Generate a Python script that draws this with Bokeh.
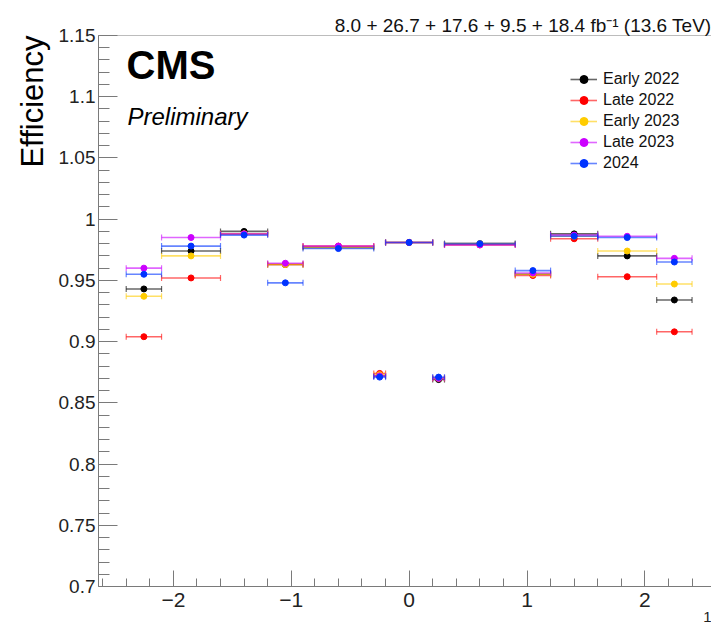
import numpy as np
from bokeh.plotting import figure
from bokeh.models import (FixedTicker, Label, Span, Legend, LegendItem, Title)
from bokeh.embed import file_html
from bokeh.resources import INLINE

# ---------------- data ----------------
eta_centers = [-2.25, -1.85, -1.4, -1.05, -0.6, -0.25, 0.0, 0.25, 0.6, 1.05, 1.4, 1.85, 2.25]
eta_halfwidths = [0.15, 0.25, 0.2, 0.15, 0.3, 0.05, 0.2, 0.05, 0.3, 0.15, 0.2, 0.25, 0.15]

early_2022 = [0.943, 0.974, 0.990, 0.963, 0.977, 0.872, 0.981, 0.869, 0.980, 0.955, 0.988, 0.970, 0.934]
late_2022 = [0.904, 0.952, 0.988, 0.963, 0.978, 0.874, 0.981, 0.870, 0.979, 0.954, 0.984, 0.953, 0.908]
early_2023 = [0.937, 0.970, 0.988, 0.963, 0.977, 0.873, 0.981, 0.870, 0.980, 0.955, 0.986, 0.974, 0.947]
late_2023 = [0.960, 0.985, 0.988, 0.964, 0.978, 0.872, 0.981, 0.870, 0.979, 0.956, 0.987, 0.986, 0.968]
year_2024 = [0.955, 0.978, 0.987, 0.948, 0.976, 0.871, 0.981, 0.871, 0.980, 0.958, 0.986, 0.985, 0.965]

series_names = ["Early 2022", "Late 2022", "Early 2023", "Late 2023", "2024"]
series_values = [early_2022, late_2022, early_2023, late_2023, year_2024]
series_colors = ["#000000", "#ff0000", "#ffcc00", "#cc00ff", "#0033ff"]

x_major_ticks = [-2, -1, 0, 1, 2]
x_tick_labels = ["\u22122", "\u22121", "0", "1", "2"]
y_major_ticks = [0.7, 0.75, 0.8, 0.85, 0.9, 0.95, 1.0, 1.05, 1.1, 1.15]
y_tick_labels = ["0.7", "0.75", "0.8", "0.85", "0.9", "0.95", "1", "1.05", "1.1", "1.15"]

lumi_text = "8.0 + 26.7 + 17.6 + 9.5 + 18.4 fb\u207b\u00b9 (13.6 TeV)"

# ---------------- figure ----------------
FONT = "Liberation Sans"
FL, FT, FB = 98, 35, 586   # frame left / top / bottom in page px

p = figure(width=711, height=633, output_backend="svg", toolbar_location=None,
           x_range=(-2.635, 2.565), y_range=(0.7, 1.15),
           min_border_left=FL, min_border_top=FT,
           min_border_bottom=633 - FB, min_border_right=0)
p.outline_line_color = None
p.xgrid.visible = False
p.ygrid.visible = False
p.background_fill_color = "white"
p.border_fill_color = "white"

# luminosity text as the (right-aligned) title above the frame
p.title.text = lumi_text
p.title.align = "right"
p.title.text_font = FONT
p.title.text_font_style = "normal"
p.title.text_font_size = "19px"
p.title.text_color = "#111111"
p.title.standoff = 0

axis_grey = "#7a7a7a"
for ax in (p.xaxis[0], p.yaxis[0]):
    ax.axis_line_color = axis_grey
    ax.major_tick_line_color = axis_grey
    ax.minor_tick_line_color = axis_grey
    ax.major_label_text_font = FONT
    ax.major_label_text_color = "#222222"
    ax.major_tick_out = 0
    ax.minor_tick_out = 0

p.xaxis.ticker = FixedTicker(ticks=x_major_ticks,
                             minor_ticks=[round(v, 2) for v in np.arange(-2.6, 2.61, 0.2)])
p.xaxis.major_label_overrides = {t: l for t, l in zip(x_major_ticks, x_tick_labels)}
p.xaxis.major_label_text_font_size = "21px"
p.xaxis.major_tick_in = 16
p.xaxis.minor_tick_in = 8
p.xaxis.major_label_standoff = 6

p.yaxis.ticker = FixedTicker(ticks=y_major_ticks,
                             minor_ticks=[round(v, 3) for v in np.arange(0.70, 1.151, 0.01)])
p.yaxis.major_label_overrides = {t: l for t, l in zip(y_major_ticks, y_tick_labels)}
p.yaxis.major_label_text_font_size = "19px"
p.yaxis.major_tick_in = 19
p.yaxis.minor_tick_in = 11
p.yaxis.major_label_standoff = 3

p.add_layout(Span(location=1.15, dimension="width", line_color=axis_grey, line_width=1))

# y-axis title, aligned to the top as in ROOT
p.add_layout(Title(text="Efficiency", align="right", text_font=FONT,
                   text_font_style="normal", text_font_size="31px",
                   text_color="black", standoff=12), "left")
# cut-off x-axis title fragment at the lower right
p.add_layout(Title(text="1", align="right", text_font=FONT,
                   text_font_style="normal", text_font_size="15px",
                   text_color="#222222", standoff=0), "below")

# ---------------- series ----------------
xc = np.array(eta_centers)
hw = np.array(eta_halfwidths)
items = []
for name, vals, col in zip(series_names, series_values, series_colors):
    y = np.array(vals)
    seg = p.segment(x0=xc - hw, x1=xc + hw, y0=y, y1=y, line_color=col,
                    line_width=1.6, line_alpha=0.6)
    p.scatter(x=np.concatenate([xc - hw, xc + hw]), y=np.concatenate([y, y]),
              marker="dash", angle=np.pi / 2, size=6, line_color=col,
              line_width=1.2, line_alpha=0.6)
    dot = p.scatter(x=xc, y=y, marker="circle", size=6, fill_color=col,
                    line_color=col)
    items.append(LegendItem(label=name, renderers=[seg, dot]))

legend = Legend(items=items, location=(472, 413), padding=0, spacing=1,
                glyph_width=27, glyph_height=20, label_height=20,
                label_standoff=6, label_text_font=FONT,
                label_text_font_size="16px", label_text_color="#111111",
                background_fill_alpha=0, border_line_color=None, margin=0)
p.add_layout(legend, "center")


# ---------------- texts inside the frame ----------------
def sx(px):
    return px - FL


def sy(py):
    return FB - py


p.add_layout(Label(x=sx(126), y=sy(86), x_units="screen", y_units="screen",
                   text="CMS", text_font=FONT, text_font_style="bold",
                   text_font_size="40px", text_color="black"))
p.add_layout(Label(x=sx(127), y=sy(129), x_units="screen", y_units="screen",
                   text="Preliminary", text_font=FONT, text_font_style="italic",
                   text_font_size="24px", text_color="black"))

open("out.html", "w").write(file_html(p, INLINE))
